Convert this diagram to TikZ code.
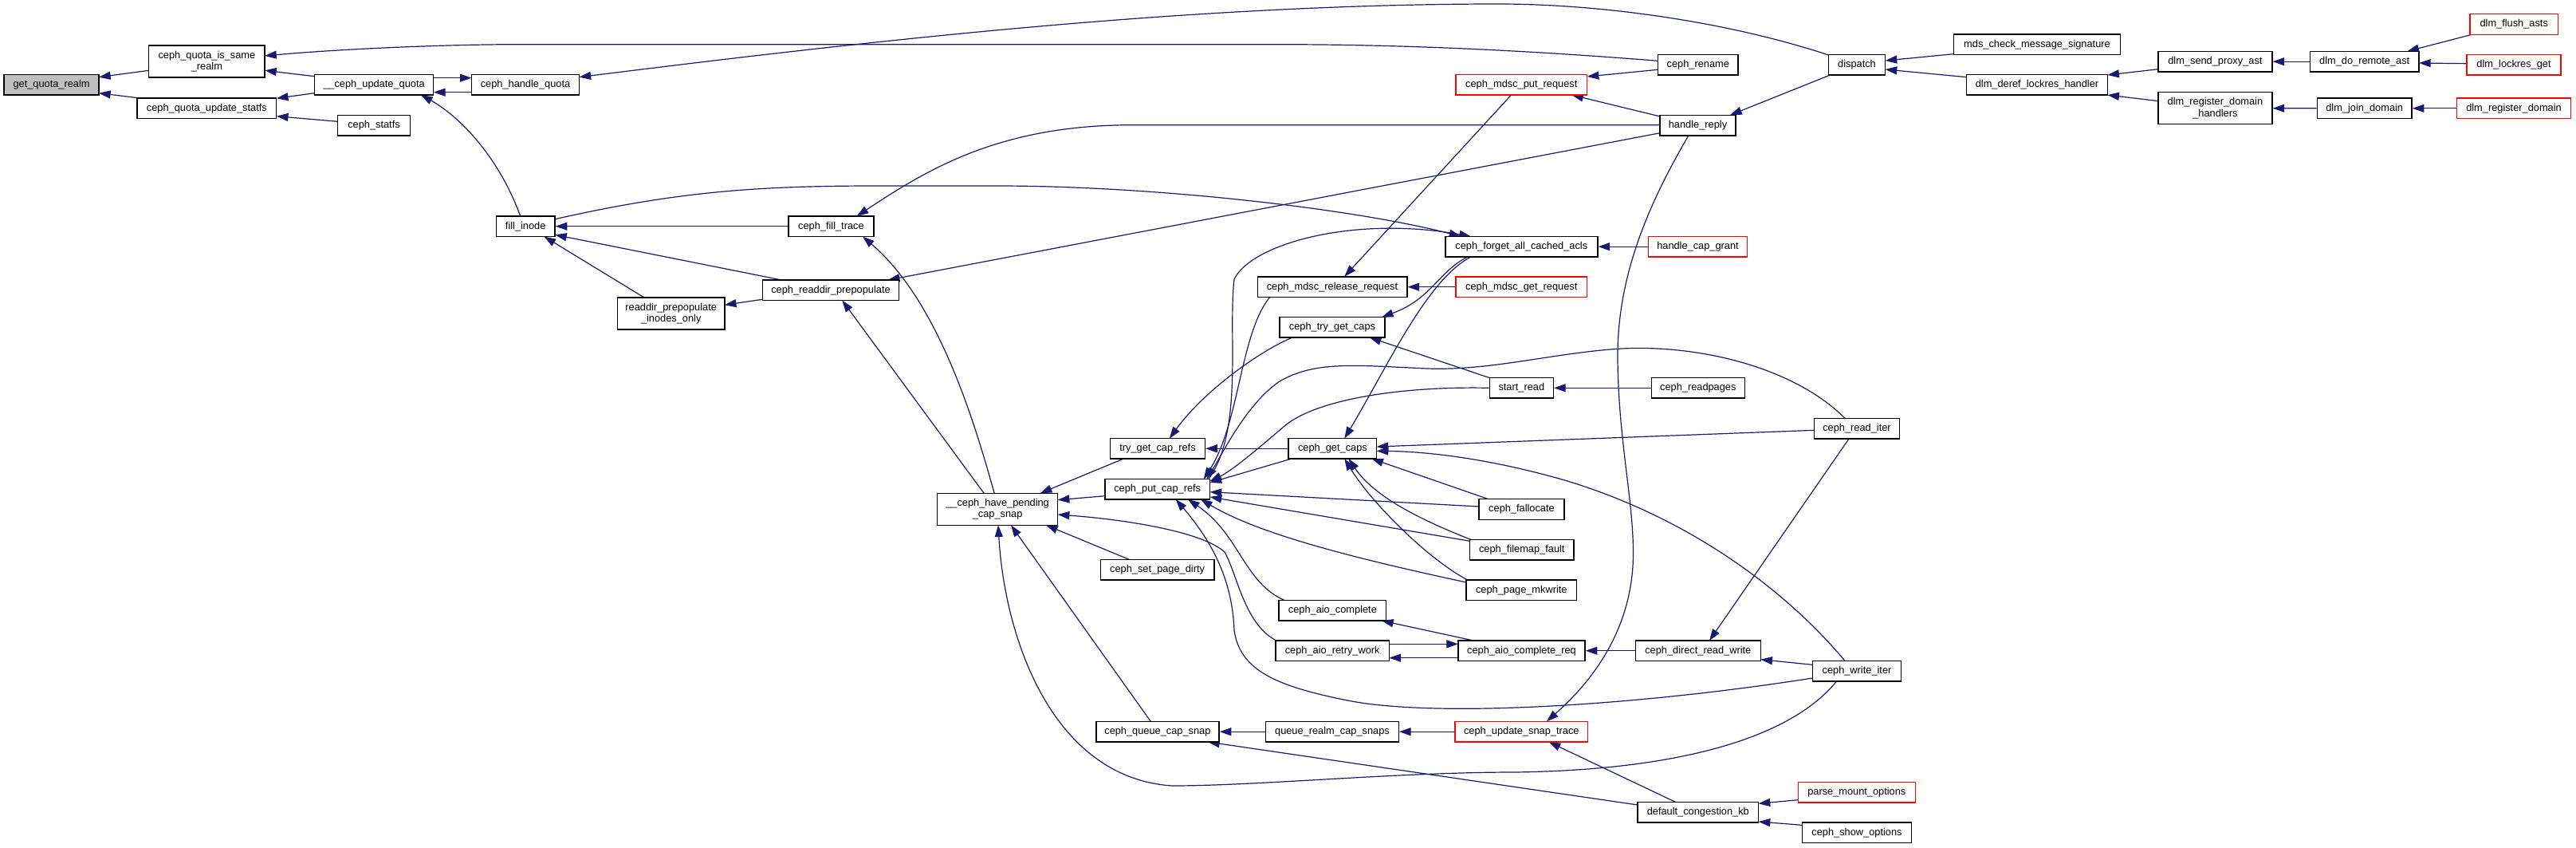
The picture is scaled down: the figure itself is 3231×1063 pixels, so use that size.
\documentclass[tikz,border=0pt]{standalone}
\usepackage{fontspec}
\setmainfont{Liberation Sans}
\usetikzlibrary{arrows.meta,calc,backgrounds}
\definecolor{edgec}{RGB}{25,25,112}
\definecolor{rootfill}{RGB}{191,191,191}
\tikzset{
 fn/.style={draw=black, line width=1.1pt, fill=white, inner sep=0pt, align=center,
   font=\fontsize{9.6pt}{10.8pt}\selectfont, minimum height=25.5*0.75pt},
 hl/.style={draw=red},
 rootbox/.style={fill=rootfill},
 bw/.style={minimum width=#1*0.75pt},
 tall/.style={minimum height=40*0.75pt},
 cx/.style={draw=edgec, line width=0.9pt, -{Triangle[length=11pt,width=7.5pt]}},
}
\begin{document}
\begin{tikzpicture}[x=0.75pt,y=-0.75pt]
\useasboundingbox (0,0) rectangle (3231,1063);
% nodes
\node[fn,rootbox,bw=119] (gqr) at (64.6,106.3) {get\_quota\_realm};
\node[fn,tall,bw=145.5] (qsr) at (259.4,77) {ceph\_quota\_is\_same\\\_realm};
\node[fn,bw=174.7] (qus) at (259.4,135.8) {ceph\_quota\_update\_statfs};
\node[fn,bw=149.5] (cuq) at (469,106.3) {\_\_ceph\_update\_quota};
\node[fn,bw=135] (chq) at (659,106.3) {ceph\_handle\_quota};
\node[fn,bw=91] (cst) at (469,157.2) {ceph\_statfs};
\node[fn,bw=73.7] (fin) at (659.2,283.7) {fill\_inode};
\node[fn,bw=107.2] (cft) at (1042.4,283.7) {ceph\_fill\_trace};
\node[fn,bw=170.5] (crp) at (1042,363.7) {ceph\_readdir\_prepopulate};
\node[fn,tall,bw=134.2] (rpi) at (841.7,393) {readdir\_prepopulate\\\_inodes\_only};
\node[fn,bw=100.4] (cre) at (2129.8,81.2) {ceph\_rename};
\node[fn,bw=71] (dsp) at (2329,81.2) {dispatch};
\node[fn,hl,bw=164.7] (mpr) at (1908.3,106.3) {ceph\_mdsc\_put\_request};
\node[fn,bw=94.7] (hre) at (2129.5,157.2) {handle\_reply};
\node[fn,bw=191] (fac) at (1908.3,309.2) {ceph\_forget\_all\_cached\_acls};
\node[fn,hl,bw=124] (hcg) at (2129.5,309.2) {handle\_cap\_grant};
\node[fn,bw=187.5] (mrr) at (1671,359.7) {ceph\_mdsc\_release\_request};
\node[fn,hl,bw=164.7] (mgr) at (1908.3,359.7) {ceph\_mdsc\_get\_request};
\node[fn,bw=132] (tgc) at (1671,410.3) {ceph\_try\_get\_caps};
\node[fn,bw=80] (srd) at (1908.3,486.3) {start\_read};
\node[fn,bw=117] (crd) at (2129.8,486.3) {ceph\_readpages};
\node[fn,bw=106.7] (rit) at (2329,537.2) {ceph\_read\_iter};
\node[fn,bw=110.4] (gcp) at (1671.4,562.3) {ceph\_get\_caps};
\node[fn,bw=106.7] (fal) at (1908.5,638.5) {ceph\_fallocate};
\node[fn,bw=130.3] (ffa) at (1908.8,689.3) {ceph\_filemap\_fault};
\node[fn,bw=118.7] (tcr) at (1452,562.3) {try\_get\_cap\_refs};
\node[fn,bw=131.8] (pcr) at (1451.7,613.3) {ceph\_put\_cap\_refs};
\node[fn,tall,bw=151.2] (hpc) at (1251.1,638.3) {\_\_ceph\_have\_pending\\\_cap\_snap};
\node[fn,bw=142.3] (spd) at (1451.6,714.3) {ceph\_set\_page\_dirty};
\node[fn,bw=154.2] (qcs) at (1451.9,917.2) {ceph\_queue\_cap\_snap};
\node[fn,bw=138.6] (pmw) at (1908.3,739.7) {ceph\_page\_mkwrite};
\node[fn,bw=134.4] (aco) at (1671.4,765.2) {ceph\_aio\_complete};
\node[fn,bw=142.3] (arw) at (1671.2,815.7) {ceph\_aio\_retry\_work};
\node[fn,bw=159] (acr) at (1908.5,815.7) {ceph\_aio\_complete\_req};
\node[fn,bw=157] (drw) at (2129.8,815.7) {ceph\_direct\_read\_write};
\node[fn,bw=111] (wit) at (2329,841.2) {ceph\_write\_iter};
\node[fn,bw=166.6] (qrc) at (1671,917.2) {queue\_realm\_cap\_snaps};
\node[fn,hl,bw=166.8] (ust) at (1908.3,917.2) {ceph\_update\_snap\_trace};
\node[fn,bw=151.6] (dck) at (2129.8,1018.3) {default\_congestion\_kb};
\node[fn,hl,bw=147] (pmo) at (2328.8,993.3) {parse\_mount\_options};
\node[fn,bw=137] (cso) at (2329,1043.8) {ceph\_show\_options};
\node[fn,bw=209.2] (mcs) at (2555,55.8) {mds\_check\_message\_signature};
\node[fn,bw=176.8] (ddl) at (2555,106.3) {dlm\_deref\_lockres\_handler};
\node[fn,bw=142.8] (spa) at (2778.4,77.2) {dlm\_send\_proxy\_ast};
\node[fn,tall,bw=142.8] (rdh) at (2778.4,135.7) {dlm\_register\_domain\\\_handlers};
\node[fn,bw=136.6] (dra) at (2965.7,77.2) {dlm\_do\_remote\_ast};
\node[fn,bw=118.7] (jdo) at (2965.7,135.8) {dlm\_join\_domain};
\node[fn,hl,bw=110.8] (fla) at (3153.2,30.5) {dlm\_flush\_asts};
\node[fn,hl,bw=117.8] (lrg) at (3153,81.2) {dlm\_lockres\_get};
\node[fn,hl,bw=142.7] (rdo) at (3153,135.8) {dlm\_register\_domain};
% edges
\begin{scope}[on background layer]
\fill[white] (0,0) rectangle (3231,1063);
\draw[cx] ($(qsr)+(-72.7,11.3)$) -- ($(gqr)+(59.4,-9.6)$);
\draw[cx] ($(qus)+(-86.8,-13.1)$) -- ($(gqr)+(59.4,10.4)$);
\draw[cx] ($(cuq)+(-74.6,-10.6)$) -- ($(qsr)+(72.7,11.3)$);
\draw[cx] ($(cre)+(-50.2,-4.9)$) .. controls (1900,62) and (1750,55.7) .. (1600,55.7) -- (650,55.7) .. controls (550,55.7) and (420,62) .. ($(qsr)+(72.7,-7)$);
\draw[cx] ($(cuq)+(-74.6,10.4)$) -- ($(qus)+(87.4,-12.5)$);
\draw[cx] ($(cst)+(-45.4,-4.9)$) -- ($(qus)+(87.4,9.9)$);
\draw[cx] ($(cuq)+(74.9,-8.6)$) -- ($(chq)+(-67.5,-8.6)$);
\draw[cx] ($(chq)+(-67.5,9.4)$) -- ($(cuq)+(74.9,9.4)$);
\draw[cx] ($(dsp)+(-35.5,-12.2)$) .. controls (2160,25) and (2000,5) .. (1880,5) .. controls (1500,5) and (1100,50) .. ($(chq)+(67.5,-9.6)$);
\draw[cx] ($(fin)+(-6.5,-12.7)$) .. controls (625,195) and (575,145) .. ($(cuq)+(59,12.7)$);
\draw[cx] (cft.west) -- (fin.east);
\draw[cx] ($(rpi)+(-33.7,-20)$) -- ($(fin)+(23.3,12.8)$);
\draw[cx] ($(crp)+(-61.6,-12.7)$) -- ($(fin)+(36.9,10.6)$);
\draw[cx] ($(fin)+(37,-9)$) .. controls (850,240) and (950,233) .. (1100,233) -- (1250,233) .. controls (1450,233) and (1700,262) .. ($(fac)+(-76,-12.8)$);
\draw[cx] ($(hre)+(-47.3,9.5)$) -- ($(crp)+(71.8,-12.7)$);
\draw[cx] ($(hre)+(-47.3,-0.5)$) -- (1420,156.7) .. controls (1250,156.7) and (1160,215) .. ($(cft)+(32.2,-12.8)$);
\draw[cx] ($(hpc)+(-17,-20)$) -- ($(crp)+(14.3,12.8)$);
\draw[cx] ($(hpc)+(-3.9,-20)$) .. controls (1225,540) and (1180,380) .. ($(cft)+(39.6,12.8)$);
\draw[cx] ($(crp)+(-85,11.5)$) -- ($(rpi)+(67.1,-10.7)$);
\draw[cx] ($(cre)+(-50.2,6.1)$) -- ($(mpr)+(82.4,-10.3)$);
\draw[cx] ($(hre)+(-47.3,-11.2)$) -- ($(mpr)+(63,12.7)$);
\draw[cx] ($(dsp)+(-33.4,12.8)$) -- ($(hre)+(40.5,-12.9)$);
\draw[cx] ($(mpr)+(-12.8,12.7)$) -- ($(mrr)+(15.3,-13)$);
\draw[cx] ($(hre)+(-11.7,12.8)$) .. controls (2065,260) and (2028,350) .. (2029,450) .. controls (2030,560) and (2052,640) .. (2048,710) .. controls (2042,800) and (1990,860) .. ($(ust)+(31.7,-12.9)$);
\draw[cx] (hcg.west) -- (fac.east);
\draw[cx] (mgr.west) -- (mrr.east);
\draw[cx] ($(pcr)+(64,-12.65)$) .. controls (1560,540) and (1540,420) .. (1548,350) .. controls (1570,305) and (1700,270) .. ($(fac)+(-63.3,-12.7)$);
\draw[cx] ($(mrr)+(-78.6,13)$) .. controls (1555,420) and (1555,530) .. ($(pcr)+(58,-12.65)$);
\draw[cx] ($(tgc)+(-50,12.7)$) .. controls (1580,440) and (1510,490) .. ($(tcr)+(14.8,-12.6)$);
\draw[cx] ($(fac)+(-67.7,12.8)$) .. controls (1805,340) and (1795,375) .. ($(tgc)+(62,-12.7)$);
\draw[cx] ($(fac)+(-63.3,12.8)$) .. controls (1790,350) and (1740,460) .. ($(gcp)+(14.9,-12.65)$);
\draw[cx] (gcp.west) -- (tcr.east);
\draw[cx] ($(rit)+(-15,-12.85)$) .. controls (2250,460) and (2130,432) .. (2034,437) .. controls (1950,442) and (1870,465) .. (1790,462) .. controls (1700,458) and (1650,452) .. (1605,478) .. controls (1565,505) and (1535,565) .. ($(pcr)+(62,-12.65)$);
\draw[cx] (srd.west) .. controls (1760,484) and (1650,500) .. (1610,535) .. controls (1575,565) and (1545,590) .. ($(pcr)+(65.9,-10)$);
\draw[cx] ($(srd)+(-38.9,-12.3)$) -- ($(tgc)+(46.7,12.7)$);
\draw[cx] (crd.west) -- (srd.east);
\draw[cx] ($(rit)+(-53.3,2.1)$) -- ($(gcp)+(55.2,-2.3)$);
\draw[cx] ($(rit)+(-10,12.85)$) -- ($(drw)+(14.2,-12.65)$);
\draw[cx] ($(wit)+(-15,-12.85)$) .. controls (2240,740) and (2120,650) .. (1966,603) .. controls (1870,575) and (1790,566) .. ($(gcp)+(55.2,3)$);
\draw[cx] ($(fal)+(-41.8,-12.85)$) -- ($(gcp)+(48.9,12.65)$);
\draw[cx] ($(fal)+(-53.3,-3.5)$) -- ($(pcr)+(65.9,3.4)$);
\draw[cx] ($(ffa)+(-63,-12.6)$) .. controls (1790,655) and (1725,625) .. ($(gcp)+(20.1,12.65)$);
\draw[cx] ($(ffa)+(-65.1,-11)$) -- ($(pcr)+(65.9,9.7)$);
\draw[cx] ($(pmw)+(-67.7,-12.65)$) .. controls (1790,700) and (1720,630) .. ($(gcp)+(14.9,12.65)$);
\draw[cx] ($(pmw)+(-69.3,-9.7)$) .. controls (1700,700) and (1580,670) .. ($(pcr)+(54.3,12.65)$);
\draw[cx] ($(gcp)+(-51.4,12.7)$) -- ($(pcr)+(65.9,-8.3)$);
\draw[cx] ($(tcr)+(-42.7,12.7)$) -- ($(hpc)+(53.6,-20)$);
\draw[cx] ($(pcr)+(-65.9,8.4)$) -- ($(hpc)+(75.6,-11.6)$);
\draw[cx] (arw.north west) .. controls (1560,780) and (1552,720) .. (1536,692) .. controls (1510,668) and (1420,652) .. ($(hpc)+(75.6,6.7)$);
\draw[cx] ($(spd)+(-34.6,-12.65)$) -- ($(hpc)+(60.9,20)$);
\draw[cx] ($(qcs)+(-8.6,-12.85)$) -- ($(hpc)+(16.9,20)$);
\draw[cx] ($(wit)+(-25.5,12.85)$) .. controls (2250,920) and (2120,965) .. (1900,968) .. controls (1750,968) and (1580,985) .. (1470,985) .. controls (1320,975) and (1260,800) .. ($(hpc)+(0.9,20)$);
\draw[cx] (qrc.west) -- (qcs.east);
\draw[cx] (ust.west) -- (qrc.east);
\draw[cx] ($(dck)+(-75.8,-9.3)$) -- ($(qcs)+(63.1,12.85)$);
\draw[cx] ($(dck)+(-27.8,-12.65)$) -- ($(ust)+(34.3,12.85)$);
\draw[cx] ($(pmo)+(-73.5,9.4)$) -- ($(dck)+(75.8,-11)$);
\draw[cx] ($(cso)+(-68.4,-9.5)$) -- ($(dck)+(75.8,11.7)$);
\draw[cx] (drw.west) -- (acr.east);
\draw[cx] ($(acr)+(-60.1,-12.65)$) -- ($(aco)+(61.6,12.85)$);
\draw[cx] ($(arw)+(71.15,-8.4)$) -- ($(acr)+(-79.5,-8.4)$);
\draw[cx] ($(acr)+(-79.5,9)$) -- ($(arw)+(71.15,9)$);
\draw[cx] ($(wit)+(-55.4,-7.9)$) -- ($(drw)+(78.5,11)$);
\draw[cx] ($(aco)+(-60.7,-12.9)$) .. controls (1560,730) and (1555,670) .. ($(pcr)+(38.3,12.65)$);
\draw[cx] ($(wit)+(-55.4,8.8)$) .. controls (2050,885) and (1800,900) .. (1690,878) .. controls (1600,860) and (1555,840) .. (1548,790) .. controls (1546,740) and (1530,690) .. ($(pcr)+(23,12.65)$);
\draw[cx] ($(mcs)+(-104.7,11.9)$) -- ($(dsp)+(35.6,-5.2)$);
\draw[cx] ($(ddl)+(-88.5,-9.6)$) -- ($(dsp)+(35.6,5.8)$);
\draw[cx] ($(spa)+(-71.4,9.5)$) -- ($(ddl)+(88.3,-12.3)$);
\draw[cx] ($(rdh)+(-71.4,-9)$) -- ($(ddl)+(88.3,12.7)$);
\draw[cx] (dra.west) -- (spa.east);
\draw[cx] ($(fla)+(-52.8,12.8)$) -- ($(dra)+(53.6,-12.9)$);
\draw[cx] ($(lrg)+(-58.9,-1.5)$) -- ($(dra)+(68.3,1.8)$);
\draw[cx] (jdo.west) -- (rdh.east);
\draw[cx] (rdo.west) -- (jdo.east);
\end{scope}
\end{tikzpicture}
\end{document}
